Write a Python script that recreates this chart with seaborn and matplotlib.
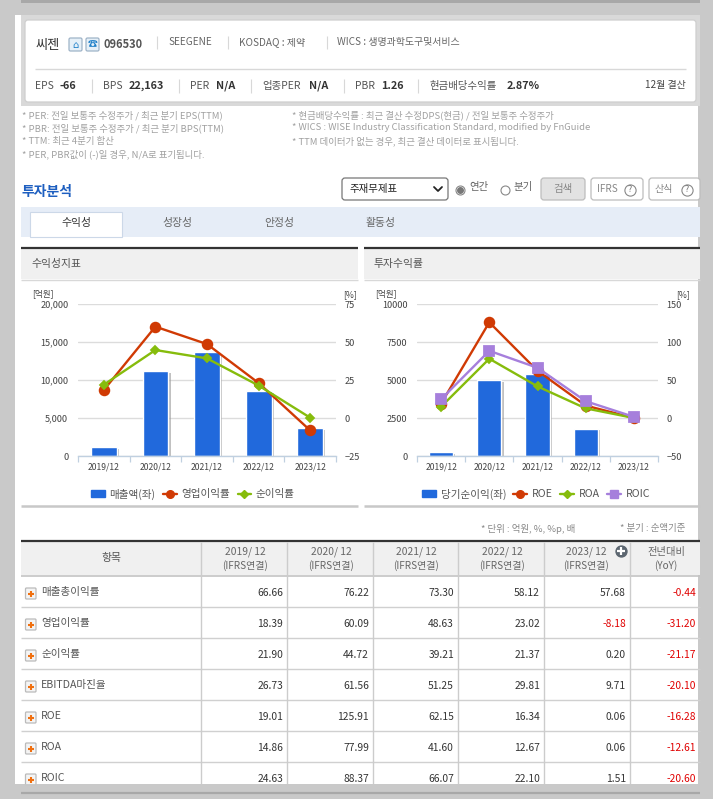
import matplotlib
matplotlib.use("Agg")
import matplotlib.pyplot as plt
import seaborn as sns
from matplotlib.lines import Line2D
from matplotlib.patches import FancyBboxPatch, Patch, Rectangle
from matplotlib.patheffects import SimplePatchShadow, Normal

# chart data
periods = ["2019/12", "2020/12", "2021/12", "2022/12", "2023/12"]
sales = [1200, 11200, 13700, 8500, 3700]
op_margin = [18.39, 60.09, 48.63, 23.02, -8.18]
net_margin = [21.90, 44.72, 39.21, 21.37, 0.20]
net_income = [250, 5000, 5400, 1800, 10]
roe = [19.01, 125.91, 62.15, 16.34, 0.06]
roa = [14.86, 77.99, 41.60, 12.67, 0.06]
roic = [24.63, 88.37, 66.07, 22.10, 1.51]

left_ticks = [0, 5000, 10000, 15000, 20000]
left_labels = ["0", "5,000", "10,000", "15,000", "20,000"]
right_ticks = [0, 2500, 5000, 7500, 10000]
pct_ticks_left = [-25, 0, 25, 50, 75]
pct_ticks_right = [-50, 0, 50, 100, 150]

# table data
row_names = ["매출총이익률", "영업이익률", "순이익률", "EBITDA마진율", "ROE", "ROA", "ROIC"]
col_2019 = ["66.66", "18.39", "21.90", "26.73", "19.01", "14.86", "24.63"]
col_2020 = ["76.22", "60.09", "44.72", "61.56", "125.91", "77.99", "88.37"]
col_2021 = ["73.30", "48.63", "39.21", "51.25", "62.15", "41.60", "66.07"]
col_2022 = ["58.12", "23.02", "21.37", "29.81", "16.34", "12.67", "22.10"]
col_2023 = ["57.68", "-8.18", "0.20", "9.71", "0.06", "0.06", "1.51"]
col_yoy = ["-0.44", "-31.20", "-21.17", "-20.10", "-16.28", "-12.61", "-20.60"]

notes_left = ["* PER: 전일 보통주 수정주가 / 최근 분기 EPS(TTM)",
              "* PBR: 전일 보통주 수정주가 / 최근 분기 BPS(TTM)",
              "* TTM: 최근 4분기 합산",
              "* PER, PBR값이 (-)일 경우, N/A로 표기됩니다."]
notes_right = ["* 현금배당수익률 : 최근 결산 수정DPS(현금) / 전일 보통주 수정주가",
               "* WICS : WISE Industry Classification Standard, modified by FnGuide",
               "* TTM 데이터가 없는 경우, 최근 결산 데이터로 표시됩니다."]

BLUE = "#2169dc"
RED = "#d03a04"
GREEN = "#86bc0c"
PURPLE = "#a67fdc"
W, H = 713, 799

sns.set_theme(style="white")
plt.rcParams['font.family'] = ['Noto Sans CJK KR', 'DejaVu Sans']

fig = plt.figure(figsize=(W / 100, H / 100), dpi=100, facecolor="#c9c9c9")
ov = fig.add_axes([0, 0, 1, 1], zorder=0)
ov.set_xlim(0, W)
ov.set_ylim(H, 0)
ov.axis("off")


def box(x0, y0, x1, y1, fc, ec="none", lw=0, z=1, **kw):
    ov.add_patch(Rectangle((x0, y0), x1 - x0, y1 - y0, fc=fc, ec=ec, lw=lw, zorder=z, **kw))


def rbox(x0, y0, x1, y1, fc, ec, r=3, z=2):
    ov.add_patch(FancyBboxPatch((x0 + r, y0 + r), x1 - x0 - 2 * r, y1 - y0 - 2 * r,
                                boxstyle=f"round,pad={r}", fc=fc, ec=ec, lw=0.9, zorder=z))


def txt(x, y, s, size=7.5, color="#666666", ha="left", weight="normal", z=5):
    ov.text(x, y, s, fontsize=size, color=color, ha=ha, va="center", fontweight=weight, zorder=z)


def hline(x0, x1, y, color, lw=1.0, z=3):
    ov.plot([x0, x1], [y, y], color=color, lw=lw, solid_capstyle="butt", zorder=z)


def vline(x, y0, y1, color, lw=0.8, z=3):
    ov.plot([x, x], [y0, y1], color=color, lw=lw, solid_capstyle="butt", zorder=z)


# page background and top card
box(21, 0, 700, 3, "#a8a8a8")
box(15, 15, 698, 784, "white")
box(21, 15, 700, 106, "#d9d9d9")
rbox(25, 20, 696, 102, "white", "#cfcfcf")
hline(35, 686, 68.5, "#d8d8d8")

txt(35, 45, "씨젠", 9.5, "#333333")
for x0, glyph in [(69, "⌂"), (86, "☎")]:
    rbox(69 if x0 == 69 else 86, 38, 82 if x0 == 69 else 99, 51, "#e6f0f8", "#9fb4c8", r=1.5, z=4)
    txt(x0 + 6.5, 44.5, glyph, 7, "#1e7fc8", ha="center")
txt(104, 45, "096530", 8, "#555555", weight="bold")
vline(157, 36, 49, "#d8d8d8")
txt(168, 42, "SEEGENE", 7.2)
vline(228, 36, 49, "#d8d8d8")
txt(239, 42, "KOSDAQ : 제약", 7.2)
vline(327, 36, 49, "#d8d8d8")
txt(337, 42, "WICS : 생명과학도구및서비스", 7.2)

stats = [(35, "EPS", 60, "-66"), (103, "BPS", 129, "22,163"), (190, "PER", 216, "N/A"),
         (262, "업종PER", 309, "N/A"), (355, "PBR", 381, "1.26"), (430, "현금배당수익률", 507, "2.87%")]
for x0, label, x1, value in stats:
    txt(x0, 86, label, 7.5, "#555555")
    txt(x1, 86, value, 7.8, "#333333", weight="bold")
for x0 in [92, 179, 251, 344, 418]:
    vline(x0, 79, 93, "#d8d8d8")
txt(686, 85, "12월 결산", 7.2, "#444444", ha="right")

# footnotes
for i, s in enumerate(notes_left):
    txt(22, 115 + 13 * i, s, 6.8, "#a0a0a0")
for i, s in enumerate(notes_right):
    txt(292, 115 + 13 * i, s, 6.8, "#a0a0a0")

# search bar
txt(22, 192, "투자분석", 10, "#1e5fc0", weight="bold")
rbox(342, 178, 448, 200, "white", "#777777")
txt(350, 189, "주재무제표", 7.5, "#222222")
ov.plot([434, 438, 442], [187, 191, 187], color="#222222", lw=1.3, zorder=5)
ov.scatter([460], [190], s=42, fc="white", ec="#888888", lw=0.8, zorder=4)
ov.scatter([460], [190], s=16, c="#777777", zorder=5)
txt(469, 187, "연간", 7.5)
ov.scatter([505], [190], s=42, fc="white", ec="#888888", lw=0.8, zorder=4)
txt(514, 187, "분기", 7.5)
rbox(541, 178, 585, 200, "#e2e2e2", "#bdbdbd")
txt(563, 189, "검색", 7.5, "#888888", ha="center")
rbox(591, 178, 643, 200, "white", "#bdbdbd")
txt(597, 189, "IFRS", 7.2, "#888888")
rbox(649, 178, 700, 200, "white", "#bdbdbd")
txt(655, 189, "산식", 7.2, "#888888")
for x0 in [630, 687]:
    ov.scatter([x0], [190], s=65, fc="white", ec="#888888", lw=0.8, zorder=4)
    txt(x0, 190, "?", 6.5, "#777777", ha="center")

# tab strip
box(21, 207, 700, 237, "#e6edf7")
box(30, 212, 122, 237, "white", ec="#ccd8e8", lw=0.8, z=2)
for x0, s, c in [(76, "수익성", "#333333"), (177, "성장성", "#666666"),
                 (279, "안정성", "#666666"), (381, "활동성", "#666666")]:
    txt(x0, 223, s, 7.8, c, ha="center")

# chart panel headers
for x0, x1, title in [(21, 358, "수익성지표"), (364, 700, "투자수익률")]:
    box(x0, 249, x1, 279, "#f0f0f0")
    hline(x0, x1, 248, "#333333", lw=1.6)
    hline(x0, x1, 279.5, "#d8d8d8")
    hline(x0, x1, 505.5, "#c8c8c8", lw=1.8)
    txt(x0 + 10, 264, title, 7.8, "#555555")
txt(32, 294, "[억원]", 6.2, "#444444")
txt(343, 295, "[%]", 6.2, "#444444")
txt(375, 294, "[억원]", 6.2, "#444444")
txt(676, 295, "[%]", 6.2, "#444444")


def draw_panel(rect, bars, ylim, yticks, ylabels, pct_lim, pct_ticks, series):
    x0, y0, x1, y1 = rect
    ax = fig.add_axes([x0 / W, 1 - y1 / H, (x1 - x0) / W, (y1 - y0) / H], zorder=2)
    ax.patch.set_alpha(0)
    sns.barplot(x=periods, y=bars, ax=ax, color=BLUE, saturation=1, width=0.5, zorder=2)
    for p in ax.patches:
        p.set_path_effects([SimplePatchShadow(offset=(1.6, -1.2), shadow_rgbFace="#999999", alpha=0.6),
                            Normal()])
    ax.set_ylim(*ylim)
    ax.set_yticks(yticks, ylabels)
    ax.grid(axis="y", color="#dcdcdc", lw=1.0, zorder=0)
    ax.set_axisbelow(True)
    ax.tick_params(axis="y", length=0, pad=7, labelsize=6.6, labelcolor="#444444")
    ax.tick_params(axis="x", which="major", length=0, pad=5, labelsize=6.2, labelcolor="#444444")
    ax.set_xticks([i - 0.5 for i in range(6)], minor=True)
    ax.tick_params(axis="x", which="minor", length=4, width=0.9, color="#c0d0e0", bottom=True)
    ax.set_xlabel("")
    ax.set_ylabel("")
    for side in ["top", "left", "right"]:
        ax.spines[side].set_visible(False)
    ax.spines["bottom"].set_color("#c0d0e0")
    ax.spines["bottom"].set_linewidth(1.0)

    ax2 = ax.twinx()
    ax2.patch.set_alpha(0)
    for vals, color, marker, ms in series:
        sns.pointplot(x=periods, y=vals, ax=ax2, color=color, marker=marker,
                      markersize=ms, linewidth=1.7, errorbar=None)
    ax2.set_ylim(*pct_lim)
    ax2.set_yticks(pct_ticks)
    ax2.tick_params(axis="y", length=0, pad=6, labelsize=6.6, labelcolor="#444444")
    ax2.set_ylabel("")
    ax2.grid(False)
    for side in ["top", "left", "right", "bottom"]:
        ax2.spines[side].set_visible(False)
    return ax


ax_l = draw_panel((78, 304, 336, 456), sales, (0, 20000), left_ticks, left_labels,
                  (-25, 75), pct_ticks_left,
                  [(op_margin, RED, "o", 7), (net_margin, GREEN, "D", 4.5)])
ax_r = draw_panel((417, 304, 658, 456), net_income, (0, 10000), right_ticks,
                  [str(t) for t in right_ticks], (-50, 150), pct_ticks_right,
                  [(roe, RED, "o", 7), (roa, GREEN, "D", 4.5), (roic, PURPLE, "s", 7)])


def legend_for(ax, bar_label, series, cx):
    handles = [Patch(fc=BLUE, ec=BLUE, label=bar_label)]
    for label, color, marker, ms in series:
        handles.append(Line2D([0], [0], color=color, marker=marker, ms=ms, lw=1.7, label=label))
    ax.legend(handles=handles, loc="center", bbox_to_anchor=(cx / W, 1 - 494 / H),
              bbox_transform=fig.transFigure, ncol=len(handles), frameon=False,
              fontsize=7.6, labelcolor="#555555", handlelength=1.3, handletextpad=0.45,
              columnspacing=0.7, borderpad=0)


legend_for(ax_l, "매출액(좌)", [("영업이익률", RED, "o", 5.5), ("순이익률", GREEN, "D", 4)], 193)
legend_for(ax_r, "당기순이익(좌)", [("ROE", RED, "o", 5.5), ("ROA", GREEN, "D", 4), ("ROIC", PURPLE, "s", 5.5)], 536)

# table
txt(481, 529, "* 단위 : 억원, %, %p, 배", 6.8, "#888888")
txt(620, 529, "* 분기 : 순액기준", 6.8, "#888888")

col_x = [21, 201, 287, 373, 458, 544, 630, 700]
row_y = [575.5, 606.5, 637.5, 668.5, 699.5, 730.5, 761.5, 793]
box(21, 541, 700, 575, "#f0f0f0")
hline(21, 700, 541, "#333333", lw=1.6)
hline(21, 700, 575.5, "#c4c4c4", lw=1.2)
for y in row_y[1:-1]:
    hline(21, 700, y, "#d0d0d0", lw=1.0)
hline(21, 700, 793, "#a8a8a8", lw=1.6, z=8)
for x in col_x[1:-1]:
    vline(x, 542, 793, "#cccccc", lw=1.0)

txt(111, 558, "항목", 7.8, "#555555", ha="center")
header_cx = [245, 331, 416, 502, 586]
for cx, p in zip(header_cx, periods):
    txt(cx, 552, p.replace("/", "/ "), 7.4, "#666666", ha="center")
    txt(cx, 566, "(IFRS연결)", 7.2, "#666666", ha="center")
txt(666, 552, "전년대비", 7.4, "#666666", ha="center")
txt(666, 566, "(YoY)", 7.2, "#666666", ha="center")
ov.scatter([621], [551], s=62, c="#5c6670", zorder=5)
ov.plot([621], [551], marker="+", ms=6, mew=1.6, color="white", zorder=6)

columns = [col_2019, col_2020, col_2021, col_2022, col_2023, col_yoy]
for r, name in enumerate(row_names):
    cy = 593 + 31 * r
    rbox(25.5, cy - 5, 36, cy + 6, "#f4f4f4", "#bbbbbb", r=1, z=4)
    ov.plot([30.7], [cy + 0.5], marker="+", ms=5, mew=1.5, color="#f07010", zorder=6)
    txt(41, cy - 1, name, 7.6, "#555555")
    for c, col in enumerate(columns):
        v = col[r]
        color = "#e00000" if v.startswith("-") else "#333333"
        txt(col_x[c + 2] - 4, cy, v, 7.4, color, ha="right")

# grey band along the bottom edge
box(0, 784, W, 799, "#c9c9c9", alpha=0.82, z=7)

fig.savefig("out.png", dpi=100, facecolor=fig.get_facecolor())
plt.close(fig)
